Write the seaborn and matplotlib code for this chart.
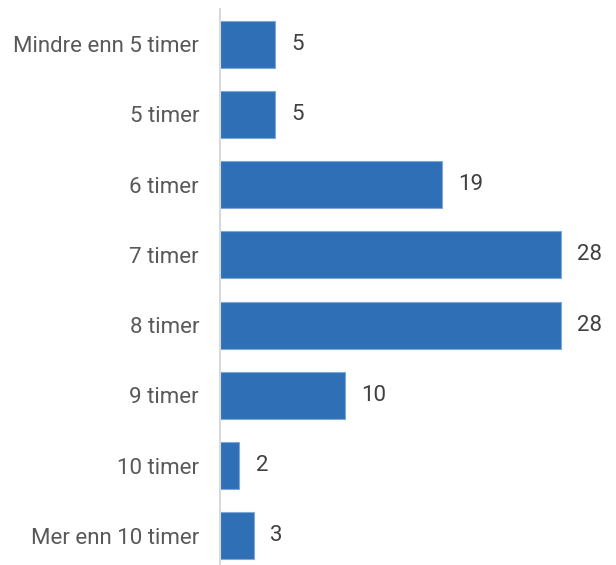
import pandas as pd
import matplotlib.pyplot as plt
import seaborn as sns

# Hours per night categories, bar lengths (estimated) and the shown labels
categories = ['Mindre enn 5 timer', '5 timer', '6 timer', '7 timer',
              '8 timer', '9 timer', '10 timer', 'Mer enn 10 timer']
values = [4.6, 4.6, 18.5, 28.4, 28.4, 10.4, 1.6, 2.8]
labels = ['5', '5', '19', '28', '28', '10', '2', '3']

df = pd.DataFrame({'kategori': categories, 'andel': values})

sns.set_style('white')
plt.rcParams['font.family'] = ['Roboto', 'DejaVu Sans']

fig = plt.figure(figsize=(6.16, 5.65), dpi=100)
ax = fig.add_axes([0.357, -0.0106, 0.643, 0.9947])

sns.barplot(data=df, x='andel', y='kategori', orient='h',
            color='#2e6fb5', saturation=1, width=0.67,
            edgecolor='#7fa8d8', linewidth=0.8, ax=ax)

ax.bar_label(ax.containers[0], labels=labels, padding=12,
             fontsize=16, color='#404040')

ax.set_xlim(0, 33)
ax.set_ylim(7.5, -0.5)
ax.set_xlabel('')
ax.set_ylabel('')
ax.set_xticks([])
ax.tick_params(axis='y', length=0, pad=15, labelsize=16, labelcolor='#595959')

for side in ['top', 'right', 'bottom']:
    ax.spines[side].set_visible(False)
ax.spines['left'].set_color('#d9d9d9')
ax.spines['left'].set_linewidth(1.5)

plt.savefig('out.png', dpi=100)
